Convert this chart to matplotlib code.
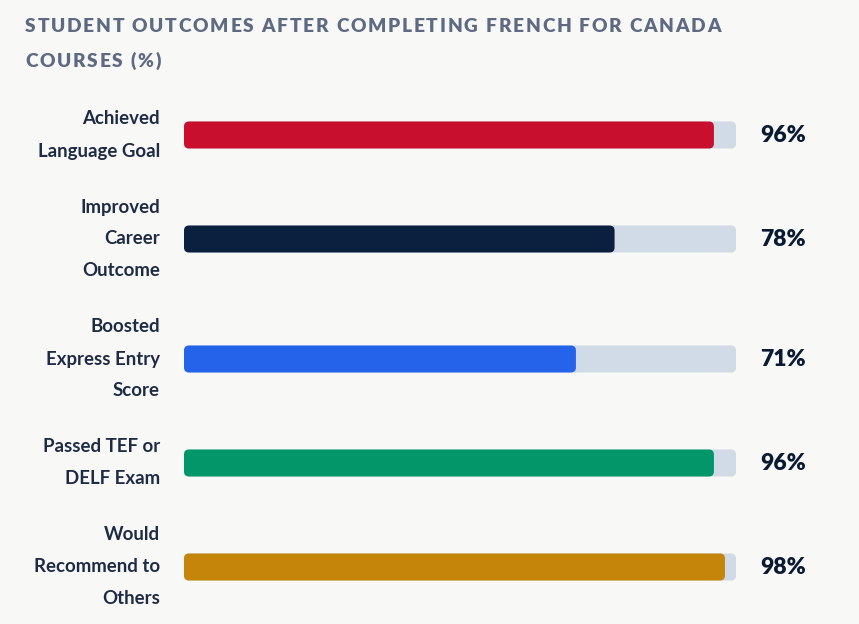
import matplotlib
matplotlib.use("Agg")
import matplotlib.pyplot as plt
from matplotlib.patches import FancyBboxPatch

title_lines = ["STUDENT OUTCOMES AFTER COMPLETING FRENCH FOR CANADA", "COURSES (%)"]
categories = [
    ["Achieved", "Language Goal"],
    ["Improved", "Career", "Outcome"],
    ["Boosted", "Express Entry", "Score"],
    ["Passed TEF or", "DELF Exam"],
    ["Would", "Recommend to", "Others"],
]
values = [96, 78, 71, 96, 98]
colors = ["#c8102e", "#0b1f3f", "#2563eb", "#039669", "#c4850a"]

W, H = 859, 624
BG = "#f8f8f6"
TRACK = "#d1dbe8"
LABEL_C = "#1f2b45"
VALUE_C = "#0b1a33"
TITLE_C = "#5e6a82"
FONT = ["Lato", "DejaVu Sans"]

fig = plt.figure(figsize=(W / 100, H / 100), dpi=100, facecolor=BG)

# overlay axes in pixel coords for text
tax = fig.add_axes([0, 0, 1, 1])
tax.set_xlim(0, W)
tax.set_ylim(H, 0)
tax.axis("off")

# bar axes
x0, x1 = 184, 736
bax = fig.add_axes([x0 / W, 0, (x1 - x0) / W, 1])
bax.set_xlim(0, 100)
bax.set_ylim(H, 0)
bax.axis("off")
bax.patch.set_alpha(0)

# row layout
line_h = 32
gap = 24
top = 103
bar_h = 27
px_per_unit = (x1 - x0) / 100.0
rad_px = 5
rs = rad_px / px_per_unit
aspect = px_per_unit

centers = []
y = top
for lines in categories:
    hgt = len(lines) * line_h
    centers.append(y + hgt / 2)
    y += hgt + gap

for lines, v, c, cy in zip(categories, values, colors, centers):
    track = FancyBboxPatch((0, cy - bar_h / 2), 100, bar_h,
                           boxstyle=f"round,pad=0,rounding_size={rs}",
                           mutation_aspect=aspect, fc=TRACK, ec="none")
    bax.add_patch(track)
    bar = FancyBboxPatch((0, cy - bar_h / 2), v, bar_h,
                         boxstyle=f"round,pad=0,rounding_size={rs}",
                         mutation_aspect=aspect, fc=c, ec="none")
    bax.add_patch(bar)
    n = len(lines)
    for i, ln in enumerate(lines):
        ly = cy + (i - (n - 1) / 2) * line_h
        tax.text(160, ly, ln, ha="right", va="center", fontsize=13.4,
                 fontweight="bold", color=LABEL_C, family=FONT)
    tax.text(760, cy, f"{v}%", ha="left", va="center", fontsize=16.5,
             fontweight="heavy", color=VALUE_C, family=FONT)

# letter-spaced title
fig.canvas.draw()
renderer = fig.canvas.get_renderer()
tsize = 13.8

def text_width(s):
    t = tax.text(0, 0, s, fontsize=tsize, fontweight="heavy", family=FONT)
    bb = t.get_window_extent(renderer)
    t.remove()
    return bb.width

target = 721 - 25
nat = text_width(title_lines[0])
spacing = (target - nat) / (len(title_lines[0]) - 1)
baselines = [32, 67]
for line, by in zip(title_lines, baselines):
    for i, ch in enumerate(line):
        xx = 25 + (text_width(line[:i]) if i else 0) + i * spacing
        tax.text(xx, by, ch, fontsize=tsize, fontweight="heavy", color=TITLE_C,
                 family=FONT, ha="left", va="baseline")

fig.savefig("out.png", dpi=100, facecolor=BG)
